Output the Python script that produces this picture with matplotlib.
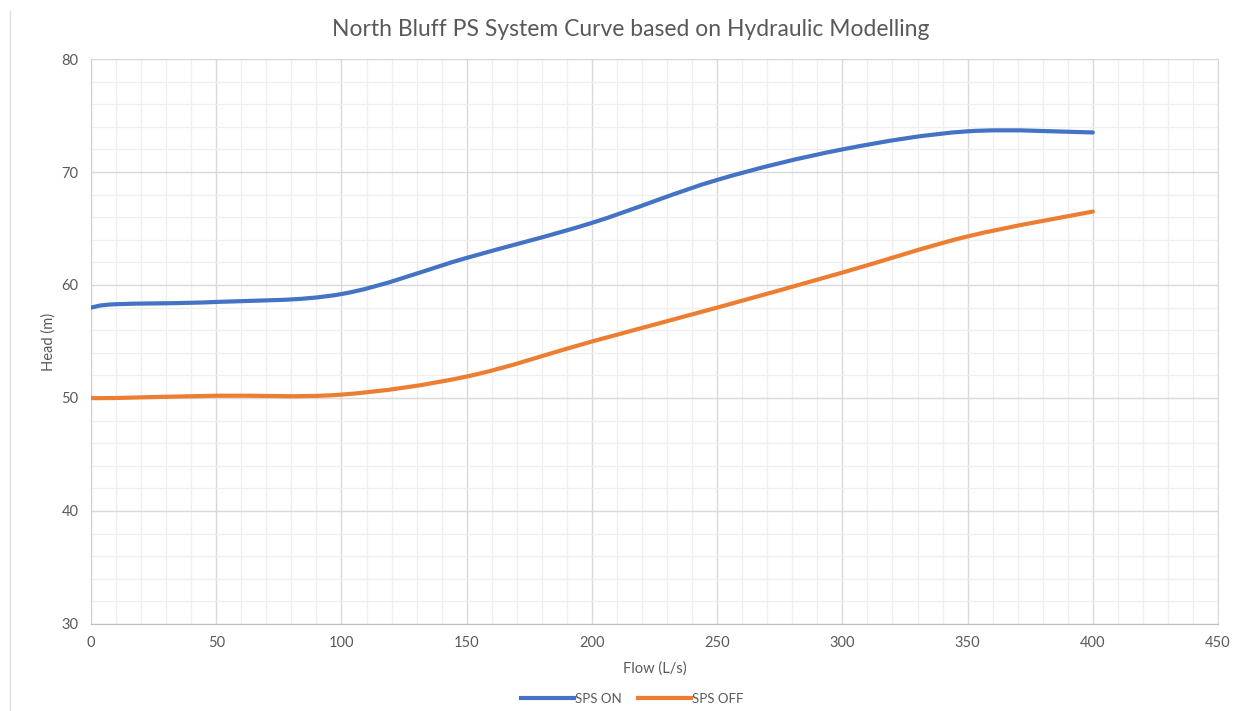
"""North Bluff PS system curve, Excel-style smoothed lines."""

import matplotlib

matplotlib.use("Agg")
import matplotlib.pyplot as plt
from matplotlib.path import Path
from matplotlib.patches import PathPatch
from matplotlib.lines import Line2D
from matplotlib.ticker import MultipleLocator

flow = [0, 10, 50, 100, 150, 200, 250, 300, 350, 400]
head_on = [58.0, 58.3, 58.5, 59.2, 62.4, 65.5, 69.3, 72.0, 73.6, 73.5]
head_off = [50.0, 50.0, 50.2, 50.3, 51.9, 55.0, 58.0, 61.1, 64.3, 66.5]

BLUE = "#4472C4"
ORANGE = "#ED7D31"
TEXT = "#595959"

plt.rcParams["font.family"] = ["Lato", "DejaVu Sans"]


def smooth_path(xs, ys):
    # cubic bezier through the points, like Excel's "smoothed line"
    pts = list(zip(xs, ys))
    verts = [pts[0]]
    codes = [Path.MOVETO]
    n = len(pts)
    for i in range(n - 1):
        p0 = pts[i - 1] if i > 0 else pts[i]
        p1 = pts[i]
        p2 = pts[i + 1]
        p3 = pts[i + 2] if i + 2 < n else pts[i + 1]
        c1 = (p1[0] + (p2[0] - p0[0]) / 6, p1[1] + (p2[1] - p0[1]) / 6)
        c2 = (p2[0] - (p3[0] - p1[0]) / 6, p2[1] - (p3[1] - p1[1]) / 6)
        verts += [c1, c2, p2]
        codes += [Path.CURVE4] * 3
    return Path(verts, codes)


fig = plt.figure(figsize=(12.47, 7.11), dpi=100)
ax = fig.add_axes([0.073, 0.1224, 0.9038, 0.7946])

for ys, color in [(head_on, BLUE), (head_off, ORANGE)]:
    patch = PathPatch(smooth_path(flow, ys), facecolor="none", edgecolor=color,
                      lw=3, capstyle="round", joinstyle="round", zorder=3)
    ax.add_patch(patch)

ax.set_xlim(0, 450)
ax.set_ylim(30, 80)
ax.xaxis.set_major_locator(MultipleLocator(50))
ax.xaxis.set_minor_locator(MultipleLocator(10))
ax.yaxis.set_major_locator(MultipleLocator(10))
ax.yaxis.set_minor_locator(MultipleLocator(2))
ax.grid(True, which="major", color="#D9D9D9", lw=1.0, zorder=0)
ax.grid(True, which="minor", color="#EFEFEF", lw=0.9, zorder=0)
ax.set_axisbelow(True)
ax.tick_params(which="both", length=0, colors=TEXT, labelsize=10.5, pad=9)
for s in ax.spines.values():
    s.set_color("#D9D9D9")
ax.spines["bottom"].set_color("#BFBFBF")
ax.spines["left"].set_color("#D0D0D0")

ax.set_xlabel("Flow (L/s)", color=TEXT, fontsize=10.5, labelpad=8)
ax.set_ylabel("Head (m)", color=TEXT, fontsize=10.5, labelpad=4)
fig.text(0.506, 0.958, "North Bluff PS System Curve based on Hydraulic Modelling",
         ha="center", va="center", color=TEXT, fontsize=16.5)

handles = [Line2D([], [], color=BLUE, lw=3), Line2D([], [], color=ORANGE, lw=3)]
fig.legend(handles, ["SPS ON", "SPS OFF"], loc="center", bbox_to_anchor=(0.507, 0.017),
           ncol=2, frameon=False, fontsize=9.5, labelcolor=TEXT, handlelength=4,
           handletextpad=0.1, columnspacing=1.2)

fig.add_artist(Line2D([0.008, 0.008], [0.0, 0.985], color="#E0E0E0", lw=1))

fig.savefig("out.png", dpi=100)
plt.close(fig)
